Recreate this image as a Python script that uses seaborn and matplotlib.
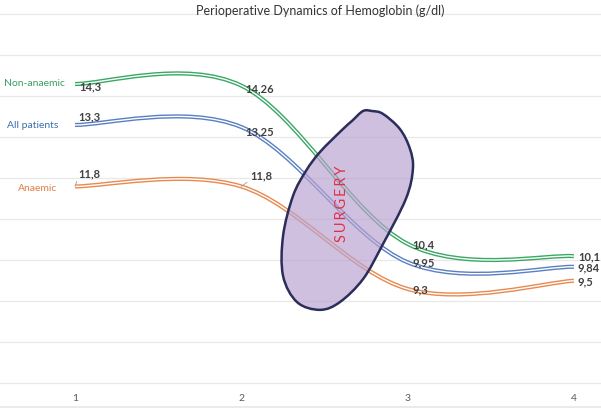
"""Perioperative dynamics of hemoglobin - smoothed Excel-style lines."""
import numpy as np
import matplotlib
matplotlib.use('Agg')
import matplotlib.pyplot as plt
from matplotlib.path import Path
from matplotlib.patches import PathPatch
import seaborn as sns

sns.set_theme(style='white')
plt.rcParams['font.family'] = ['Lato', 'DejaVu Sans']

# ── Data ─────────────────────────────────────────────────────────────────────
timepoints = [1, 2, 3, 4]
non_anaemic = [14.3, 14.26, 10.4, 10.1]
all_patients = [13.3, 13.25, 9.95, 9.84]
anaemic = [11.8, 11.8, 9.3, 9.5]
series_names = ['Non-anaemic', 'All patients', 'Anaemic']

# hand-drawn "surgery" outline (data coords)
surgery_x = [2.732, 2.786, 2.852, 2.954, 3.014, 3.032, 2.990, 2.846, 2.732,
             2.593, 2.473, 2.335, 2.251, 2.251, 2.311, 2.389, 2.473, 2.606,
             2.666]
surgery_y = [13.64, 13.64, 13.57, 13.20, 12.72, 12.23, 11.50, 10.35, 9.54,
             8.98, 8.79, 8.98, 9.62, 10.59, 11.57, 12.18, 12.64, 13.18,
             13.40]

# ── Style ────────────────────────────────────────────────────────────────────
line_colours = ['#3aa865', '#5a7fc0', '#e8894f']
text_colours = ['#3c9e64', '#3a70ae', '#e07e45']
name_offsets = [(-10, 1), (-17, 0), (-18, -1)]
value_offsets = [[(4, -2), (4, -2), (5, 0), (4, 0)],
                 [(3, 9), (4, -4), (5, 0), (4, 0)],
                 [(3, 14), (9, 12), (5, 0), (4, 0)]]
leaders = [[False] * 4, [False] * 4, [True, True, False, False]]


def smooth_path(xs, ys, closed=False):
    """Catmull-Rom style Bezier path through the points (like Excel smoothing)."""
    pts = np.column_stack([xs, ys]).astype(float)
    n = len(pts)
    if closed:
        prev, nxt = np.roll(pts, 1, axis=0), np.roll(pts, -1, axis=0)
        segs = n
    else:
        prev = np.vstack([pts[:1], pts[:-1]])
        nxt = np.vstack([pts[1:], pts[-1:]])
        segs = n - 1
    tang = (nxt - prev) / 2
    verts, codes = [pts[0]], [Path.MOVETO]
    for i in range(segs):
        j = (i + 1) % n
        verts += [pts[i] + tang[i] / 3, pts[j] - tang[j] / 3, pts[j]]
        codes += [Path.CURVE4] * 3
    if closed:
        verts.append(pts[0])
        codes.append(Path.CLOSEPOLY)
    return Path(verts, codes)


fig = plt.figure(figsize=(6.01, 4.10), dpi=100)
ax = fig.add_axes([0, 2 / 410, 1, 408 / 410])
ax.set_xlim(0.549, 4.163)
ax.set_ylim(6.42, 16.373)

ax.set_yticks(range(7, 17))
ax.set_yticklabels([])
ax.grid(axis='y', color='#e8e8e8', lw=0.9)
ax.set_xticks(timepoints)
ax.set_xticklabels([str(t) for t in timepoints])
ax.tick_params(axis='x', length=0, pad=-10, labelsize=7.5, labelcolor='#595959')
ax.tick_params(axis='y', length=0)
for side in ['top', 'left', 'right']:
    ax.spines[side].set_visible(False)
ax.spines['bottom'].set_color('#e8e8e8')

for k, values in enumerate([non_anaemic, all_patients, anaemic]):
    path = smooth_path(timepoints, values)
    ax.add_patch(PathPatch(path, fill=False, edgecolor=line_colours[k], lw=3.0, zorder=3))
    ax.add_patch(PathPatch(path, fill=False, edgecolor='white', lw=1.0, zorder=3))
    ax.annotate(series_names[k], (timepoints[0], values[0]),
                xytext=name_offsets[k], textcoords='offset pixels',
                ha='right', va='center', fontsize=7.5, color=text_colours[k])
    for i, (t, v) in enumerate(zip(timepoints, values)):
        lbl = f'{v:g}'.replace('.', ',')
        arrow = None
        if leaders[k][i]:
            arrow = dict(arrowstyle='-', color='#a0a0a0', lw=0.6,
                         shrinkA=0, shrinkB=0, relpos=(0, 0))
        ax.annotate(lbl, (t, v), xytext=value_offsets[k][i],
                    textcoords='offset pixels', ha='left', va='center',
                    fontsize=8, fontweight='bold', color='#404040',
                    arrowprops=arrow, zorder=6)

# surgery blob
blob = smooth_path(surgery_x, surgery_y, closed=True)
ax.add_patch(PathPatch(blob, facecolor='#b9a2d0', alpha=0.68, edgecolor='none', zorder=4))
ax.add_patch(PathPatch(blob, fill=False, edgecolor='#2b2d5a', lw=1.8, zorder=5))
ax.text(2.606, 11.40, '\u2009'.join('SURGERY'), rotation=90, ha='center', va='center',
        fontsize=10.5, color='#e5304a', zorder=6)

fig.text(0.533, 0.975, 'Perioperative Dynamics of Hemoglobin (g/dl)',
         ha='center', va='center', fontsize=9, color='#333333')

fig.savefig('out.png', dpi=100, facecolor='white')
